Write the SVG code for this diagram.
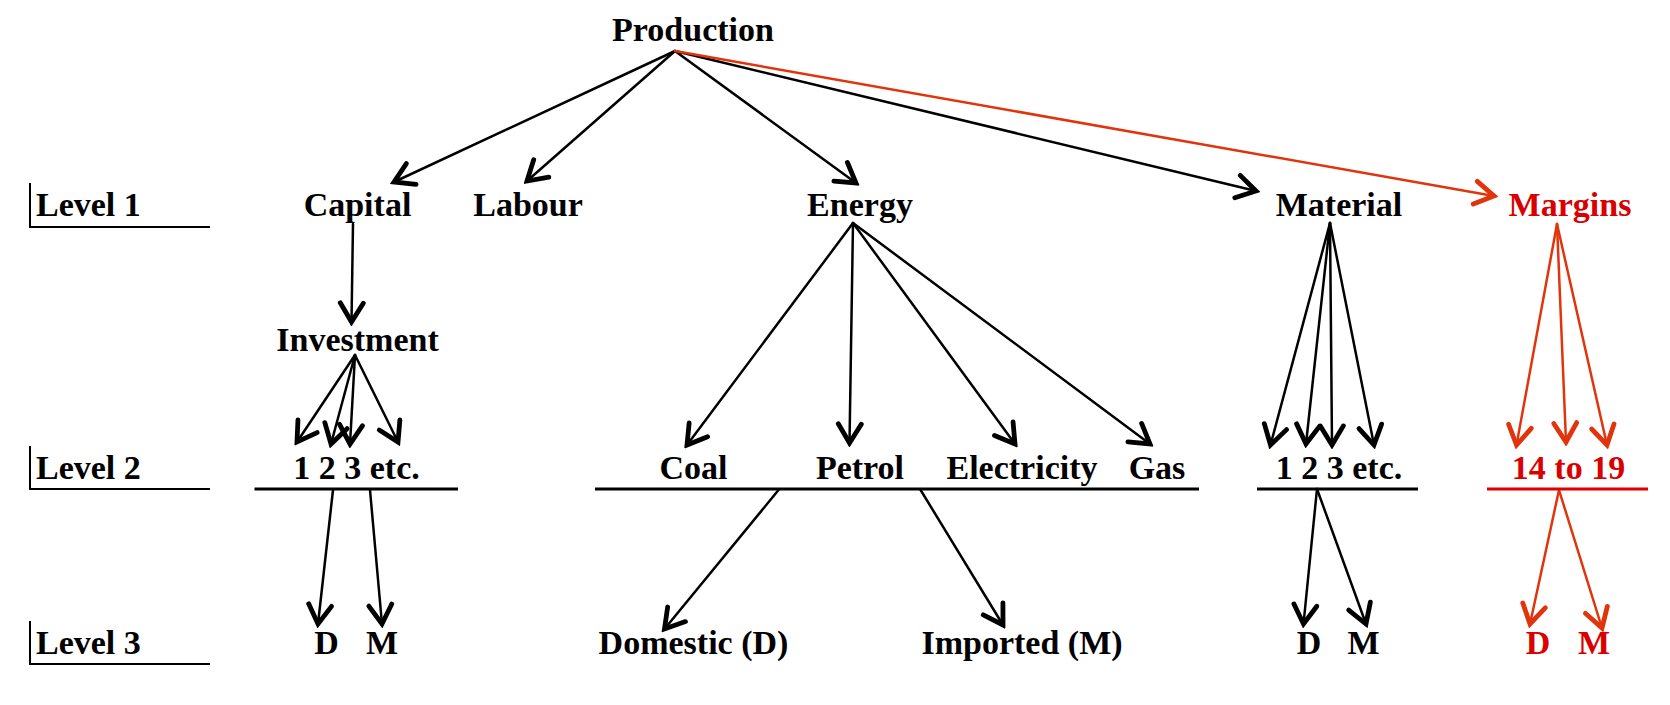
<svg xmlns="http://www.w3.org/2000/svg" width="1670" height="705" viewBox="0 0 1670 705">
<defs>
<style>
text{font-family:"Liberation Serif","Times New Roman",serif;font-weight:bold;font-size:34px;fill:#000}
text.c{text-anchor:middle}
text.r{fill:#da0000}
.ln{stroke:#000;stroke-width:2.5;fill:none;stroke-linecap:round}
.lr{stroke:#e2340c;stroke-width:2.5;fill:none;stroke-linecap:round}
.ab{marker-end:url(#ah)}
.ar{marker-end:url(#ahr)}
.ul{stroke:#000;stroke-width:3;fill:none}
.ulr{stroke:#e00000;stroke-width:3;fill:none}
.lv{stroke:#000;stroke-width:2;fill:none}
</style>
<marker id="ah" markerUnits="userSpaceOnUse" viewBox="-26 -18 30 36" refX="0" refY="0" markerWidth="30" markerHeight="36" orient="auto">
<path d="M-19,-11.5 L0,0 L-19,11.5" fill="none" stroke="#000" stroke-width="4.8" stroke-linecap="round" stroke-linejoin="miter"/>
</marker>
<marker id="ahr" markerUnits="userSpaceOnUse" viewBox="-26 -18 30 36" refX="0" refY="0" markerWidth="30" markerHeight="36" orient="auto">
<path d="M-19,-11.5 L0,0 L-19,11.5" fill="none" stroke="#e2340c" stroke-width="4.8" stroke-linecap="round" stroke-linejoin="miter"/>
</marker>
</defs>
<rect width="1670" height="705" fill="#fff"/>

<g id="levels">
<g id="level1"><path class="lv" d="M30,183 V227 H210"/><text x="36" y="216">Level 1</text></g>
<g id="level2"><path class="lv" d="M30,446 V489 H210"/><text x="36" y="479">Level 2</text></g>
<g id="level3"><path class="lv" d="M30,621 V664 H210"/><text x="36" y="654">Level 3</text></g>
</g>

<g id="connectors">
<line class="ln ab" x1="675" y1="51" x2="394" y2="182"/>
<line class="ln ab" x1="675" y1="51" x2="527" y2="181"/>
<line class="ln ab" x1="675" y1="51" x2="856" y2="183"/>
<line class="ln ab" x1="675" y1="51" x2="1256" y2="191"/>
<line class="lr ar" x1="675" y1="51" x2="1494" y2="196"/>

<line class="ln ab" x1="353" y1="224" x2="351.5" y2="322"/>

<line class="ln ab" x1="355" y1="355" x2="297" y2="442"/>
<line class="ln ab" x1="355" y1="355" x2="331" y2="444"/>
<line class="ln ab" x1="355" y1="355" x2="350" y2="444"/>
<line class="ln ab" x1="355" y1="355" x2="398" y2="442"/>

<line class="ln ab" x1="853" y1="223" x2="687" y2="445"/>
<line class="ln ab" x1="853" y1="223" x2="849.5" y2="443"/>
<line class="ln ab" x1="853" y1="223" x2="1015" y2="444"/>
<line class="ln ab" x1="853" y1="223" x2="1150" y2="444"/>

<line class="ln ab" x1="1330" y1="223" x2="1270.5" y2="445"/>
<line class="ln ab" x1="1330" y1="223" x2="1306" y2="444"/>
<line class="ln ab" x1="1330" y1="223" x2="1332" y2="445"/>
<line class="ln ab" x1="1330" y1="223" x2="1374" y2="445"/>

<line class="lr ar" x1="1557" y1="224" x2="1516.5" y2="445"/>
<line class="lr ar" x1="1557" y1="224" x2="1566" y2="442"/>
<line class="lr ar" x1="1557" y1="224" x2="1607" y2="445"/>

<line class="ln ab" x1="333" y1="490" x2="318" y2="624"/>
<line class="ln ab" x1="370" y1="490" x2="382" y2="624"/>

<line class="ln ab" x1="778.5" y1="490" x2="664.5" y2="629"/>
<line class="ln ab" x1="920" y1="489" x2="1003" y2="625"/>

<line class="ln ab" x1="1317" y1="489" x2="1303.5" y2="624"/>
<line class="ln ab" x1="1317" y1="489" x2="1366" y2="624"/>

<line class="lr ar" x1="1559" y1="490" x2="1530" y2="624"/>
<line class="lr ar" x1="1559" y1="490" x2="1602" y2="628"/>
</g>

<g id="production"><text class="c" x="693" y="41">Production</text></g>
<g id="capital"><text class="c" x="357.5" y="216">Capital</text></g>
<g id="labour"><text class="c" x="528" y="216">Labour</text></g>
<g id="energy"><text class="c" x="860" y="216">Energy</text></g>
<g id="material"><text class="c" x="1339" y="216">Material</text></g>
<g id="margins"><text class="c r" x="1570" y="216">Margins</text></g>
<g id="investment"><text class="c" x="357.5" y="351">Investment</text></g>

<g id="inv-123"><text class="c" x="356.5" y="479">1 2 3 etc.</text><line class="ul" x1="254.5" y1="489" x2="458" y2="489"/></g>
<g id="energy-types">
<text class="c" x="693.5" y="479">Coal</text>
<text class="c" x="860" y="479">Petrol</text>
<text class="c" x="1022" y="479">Electricity</text>
<text class="c" x="1157" y="479">Gas</text>
<line class="ul" x1="595" y1="489" x2="1199" y2="489"/>
</g>
<g id="mat-123"><text class="c" x="1339" y="479">1 2 3 etc.</text><line class="ul" x1="1257" y1="489" x2="1418" y2="489"/></g>
<g id="margins-14-19"><text class="c r" x="1568.5" y="479">14 to 19</text><line class="ulr" x1="1487" y1="489" x2="1648" y2="489"/></g>

<g id="inv-dm"><text class="c" x="326.5" y="654">D</text><text class="c" x="382" y="654">M</text></g>
<g id="domestic"><text class="c" x="693.5" y="654">Domestic (D)</text></g>
<g id="imported"><text class="c" x="1022" y="654">Imported (M)</text></g>
<g id="mat-dm"><text class="c" x="1309" y="654">D</text><text class="c" x="1363.5" y="654">M</text></g>
<g id="margins-dm"><text class="c r" x="1538" y="654">D</text><text class="c r" x="1594" y="654">M</text></g>
</svg>
